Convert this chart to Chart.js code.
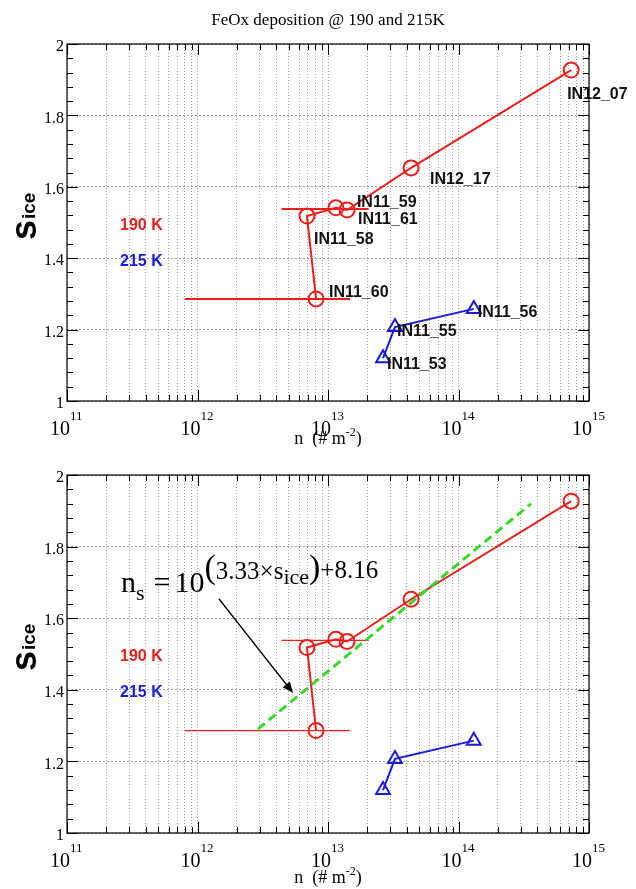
<!DOCTYPE html>
<html><head><meta charset="utf-8">
<script src="https://cdn.jsdelivr.net/npm/chart.js@4/dist/chart.umd.min.js"></script>
<style>
html,body{margin:0;padding:0;background:#fff;width:636px;height:889px;overflow:hidden}
canvas{position:absolute;left:0}
#c1{top:0}
#c2{top:447px}
</style></head>
<body>
<canvas id="c1" width="636" height="447"></canvas>
<canvas id="c2" width="636" height="442"></canvas>
<script>
// ---------------- data ----------------
const titleText = 'FeOx deposition @ 190 and 215K';
const xDecades = [11, 12, 13, 14, 15];
const yTickValues = [1, 1.2, 1.4, 1.6, 1.8, 2];
const yTickLabels = ['1', '1.2', '1.4', '1.6', '1.8', '2'];
const series190Label = '190 K';
const series190Names = ['IN11_60', 'IN11_58', 'IN11_59', 'IN11_61', 'IN12_17', 'IN12_07'];
const series190N = [8.1e12, 6.9e12, 1.15e13, 1.4e13, 4.33e13, 7.3e14];
const series190S = [1.286, 1.518, 1.541, 1.535, 1.653, 1.927];
const series215Label = '215 K';
const series215Names = ['IN11_53', 'IN11_55', 'IN11_56'];
const series215N = [2.64e13, 3.26e13, 1.31e14];
const series215S = [1.12, 1.207, 1.258];
const errBarS = [1.286, 1.538];
const errBarLo = [8.0e11, 4.4e12];
const errBarHi = [1.48e13, 2.05e13];
const fitN = [2.9e12, 3.6e14];
const fitS = [1.29, 1.92];
const arrowFromN = 1.46e12, arrowFromS = 1.654;
const arrowToN = 5.4e12, arrowToS = 1.391;

// ---------------- styles ----------------
const RED = '#e8201c';
const BLUE = '#1a1ad8';
const GREEN = '#3ad62a';
const SERIF = '"Liberation Serif","Times New Roman",serif';
const SANS = '"Liberation Sans",Arial,Helvetica,sans-serif';
const labelOffsets = {
  IN12_07: [-4, 25], IN12_17: [19, 12], IN11_59: [21, -5], IN11_61: [11, 10],
  IN11_58: [7, 24], IN11_60: [13, -6], IN11_55: [2, 4], IN11_53: [4, 6], IN11_56: [4, 4]
};

const xy = (xs, ys) => xs.map((x, i) => ({x: x, y: ys[i]}));

function xGridValues() {
  const v = [];
  for (let d = xDecades[0]; d < xDecades[xDecades.length - 1]; d++) {
    for (let k = 1; k <= 9; k++) v.push(k * Math.pow(10, d));
  }
  v.push(Math.pow(10, xDecades[xDecades.length - 1]));
  return v;
}

function makeDatasets(top) {
  const ds = [];
  if (!top) {
    ds.push({data: xy(fitN, fitS), borderColor: GREEN, borderWidth: 3, borderDash: [9, 5],
      pointRadius: 0, showLine: true});
  }
  ds.push({data: xy(series190N, series190S), borderColor: RED, borderWidth: 2,
    pointStyle: 'circle', pointRadius: 7.5, pointBorderWidth: 2, pointBorderColor: RED,
    pointBackgroundColor: 'rgba(0,0,0,0)', showLine: true});
  ds.push({data: xy(series215N, series215S), borderColor: BLUE, borderWidth: 2,
    pointStyle: 'triangle', pointRadius: 8, pointBorderWidth: 2, pointBorderColor: BLUE,
    pointBackgroundColor: 'rgba(0,0,0,0)', showLine: true});
  errBarS.forEach((s, i) => {
    ds.push({data: [{x: errBarLo[i], y: s}, {x: errBarHi[i], y: s}], borderColor: RED,
      borderWidth: top ? 2 : 1.2, pointRadius: 0, showLine: true});
  });
  return ds;
}

function drawSup(ctx, base, sup, xRight, yBase, bigSize, smallSize) {
  ctx.font = bigSize + 'px ' + SERIF;
  ctx.textAlign = 'right';
  ctx.fillText(base, xRight, yBase);
  ctx.font = smallSize + 'px ' + SERIF;
  ctx.textAlign = 'left';
  ctx.fillText(sup, xRight, yBase - 15);
}

function drawEquation(ctx, x, y) {
  let cx = x;
  ctx.textAlign = 'left';
  ctx.textBaseline = 'alphabetic';
  ctx.fillStyle = '#000';
  const put = (t, size, dy, gap) => {
    ctx.font = size + 'px ' + SERIF;
    ctx.fillText(t, cx, y + dy);
    cx += ctx.measureText(t).width + (gap || 0);
  };
  put('n', 30, 0);
  put('s', 22, 8, 9);
  put('=', 30, 0, 4);
  put('10', 30, 0);
  put('(', 34, -14);
  put('3.33\u00d7s', 25, -13);
  put('ice', 22, -8);
  put(')', 34, -14);
  put('+8.16', 25, -14);
}

function makeDecor(top) {
  return {
    id: 'decor' + (top ? 'Top' : 'Bottom'),
    afterDatasetsDraw(chart) {
      const ctx = chart.ctx;
      const a = chart.chartArea;
      const xs = chart.scales.x, ys = chart.scales.y;
      ctx.save();
      // frame
      ctx.strokeStyle = '#000';
      ctx.lineWidth = 1.2;
      ctx.strokeRect(a.left, a.top, a.right - a.left, a.bottom - a.top);
      // x ticks (inward, bottom and top)
      ctx.lineWidth = 1;
      ctx.beginPath();
      xGridValues().forEach(v => {
        const px = Math.round(xs.getPixelForValue(v)) + 0.5;
        const major = Math.abs(Math.log10(v) - Math.round(Math.log10(v))) < 1e-9;
        const L = major ? 11 : 6;
        ctx.moveTo(px, a.bottom); ctx.lineTo(px, a.bottom - L);
        ctx.moveTo(px, a.top); ctx.lineTo(px, a.top + L);
      });
      // y ticks
      for (let i = 0; i <= 25; i++) {
        const v = 1 + i * 0.04;
        const py = Math.round(ys.getPixelForValue(v)) + 0.5;
        const L = (i % 5 === 0) ? 11 : 6;
        ctx.moveTo(a.left, py); ctx.lineTo(a.left + L, py);
        ctx.moveTo(a.right, py); ctx.lineTo(a.right - L, py);
      }
      ctx.stroke();
      // tick labels
      ctx.fillStyle = '#000';
      ctx.textBaseline = 'alphabetic';
      xDecades.forEach(d => {
        const px = xs.getPixelForValue(Math.pow(10, d));
        drawSup(ctx, '10', String(d), px + 3, a.bottom + 34, 20, 13);
      });
      ctx.font = '16px ' + SERIF;
      ctx.textAlign = 'right';
      ctx.textBaseline = 'middle';
      yTickValues.forEach((v, i) => {
        ctx.fillText(yTickLabels[i], a.left - 3, ys.getPixelForValue(v) + 3);
      });
      // x axis title
      ctx.textBaseline = 'alphabetic';
      const cxm = (a.left + a.right) / 2;
      ctx.font = '18px ' + SERIF;
      const t1 = 'n  (# m', t2 = '-2', t3 = ')';
      const w1 = ctx.measureText(t1).width, w3 = ctx.measureText(t3).width;
      ctx.font = '12px ' + SERIF;
      const w2 = ctx.measureText(t2).width;
      let sx = cxm - (w1 + w2 + w3) / 2;
      const by = a.bottom + (top ? 43 : 50);
      ctx.textAlign = 'left';
      ctx.font = '18px ' + SERIF; ctx.fillText(t1, sx, by); sx += w1;
      ctx.font = '12px ' + SERIF; ctx.fillText(t2, sx, by - 8); sx += w2;
      ctx.font = '18px ' + SERIF; ctx.fillText(t3, sx, by);
      // y axis title (rotated)
      ctx.save();
      ctx.translate(36, a.top + 196);
      ctx.rotate(-Math.PI / 2);
      ctx.textAlign = 'left';
      ctx.font = 'bold 36px ' + SANS;
      ctx.fillText('s', 0, 0);
      const sw = ctx.measureText('s').width;
      ctx.font = 'bold 19px ' + SANS;
      ctx.fillText('ice', sw + 1, -1);
      ctx.restore();
      // series legend texts
      ctx.font = 'bold 16px ' + SANS;
      ctx.textAlign = 'left';
      ctx.textBaseline = 'middle';
      ctx.fillStyle = RED;
      ctx.fillText(series190Label, 120, a.top + 182);
      ctx.fillStyle = BLUE;
      ctx.fillText(series215Label, 120, a.top + 218);
      if (top) {
        // title
        ctx.fillStyle = '#000';
        ctx.font = '17px ' + SERIF;
        ctx.textAlign = 'center';
        ctx.textBaseline = 'alphabetic';
        ctx.fillText(titleText, cxm, 25);
        // point labels
        ctx.font = 'bold 16px ' + SANS;
        ctx.textAlign = 'left';
        ctx.textBaseline = 'middle';
        ctx.fillStyle = '#111';
        const put = (names, ns, ss) => names.forEach((nm, i) => {
          const o = labelOffsets[nm];
          ctx.fillText(nm, xs.getPixelForValue(ns[i]) + o[0], ys.getPixelForValue(ss[i]) + o[1]);
        });
        put(series190Names, series190N, series190S);
        put(series215Names, series215N, series215S);
      } else {
        drawEquation(ctx, a.left + 54, a.top + 117);
        // arrow
        const x0 = xs.getPixelForValue(arrowFromN), y0 = ys.getPixelForValue(arrowFromS);
        const x1 = xs.getPixelForValue(arrowToN), y1 = ys.getPixelForValue(arrowToS);
        ctx.strokeStyle = '#000';
        ctx.fillStyle = '#000';
        ctx.lineWidth = 1.5;
        const ang = Math.atan2(y1 - y0, x1 - x0);
        const hl = 11, hw = 4.5;
        const bx = x1 - hl * Math.cos(ang), byy = y1 - hl * Math.sin(ang);
        ctx.beginPath(); ctx.moveTo(x0, y0); ctx.lineTo(bx, byy); ctx.stroke();
        ctx.beginPath();
        ctx.moveTo(x1, y1);
        ctx.lineTo(bx + hw * Math.sin(ang), byy - hw * Math.cos(ang));
        ctx.lineTo(bx - hw * Math.sin(ang), byy + hw * Math.cos(ang));
        ctx.closePath(); ctx.fill();
      }
      ctx.restore();
    }
  };
}

function makeChart(id, top, padTop, padBottom) {
  return new Chart(document.getElementById(id), {
    type: 'scatter',
    data: {datasets: makeDatasets(top)},
    options: {
      responsive: false,
      animation: false,
      events: [],
      layout: {padding: {left: 67, right: 47, top: padTop, bottom: padBottom}},
      plugins: {legend: {display: false}, tooltip: {enabled: false}, title: {display: false}},
      elements: {line: {tension: 0}},
      scales: {
        x: {
          type: 'logarithmic', min: 1e11, max: 1e15, position: 'bottom',
          ticks: {display: false},
          grid: {color: 'rgba(0,0,0,0.38)', lineWidth: 1, drawTicks: false},
          border: {display: false, dash: [1, 2]},
          afterBuildTicks: s => { s.ticks = xGridValues().map(v => ({value: v})); }
        },
        y: {
          type: 'linear', min: 1, max: 2,
          ticks: {display: false},
          grid: {color: 'rgba(0,0,0,0.38)', lineWidth: 1, drawTicks: false},
          border: {display: false, dash: [2, 2]},
          afterBuildTicks: s => { s.ticks = yTickValues.map(v => ({value: v})); }
        }
      }
    },
    plugins: [makeDecor(top)]
  });
}

makeChart('c1', true, 44, 46);
makeChart('c2', false, 28, 56);
</script>
</body></html>
